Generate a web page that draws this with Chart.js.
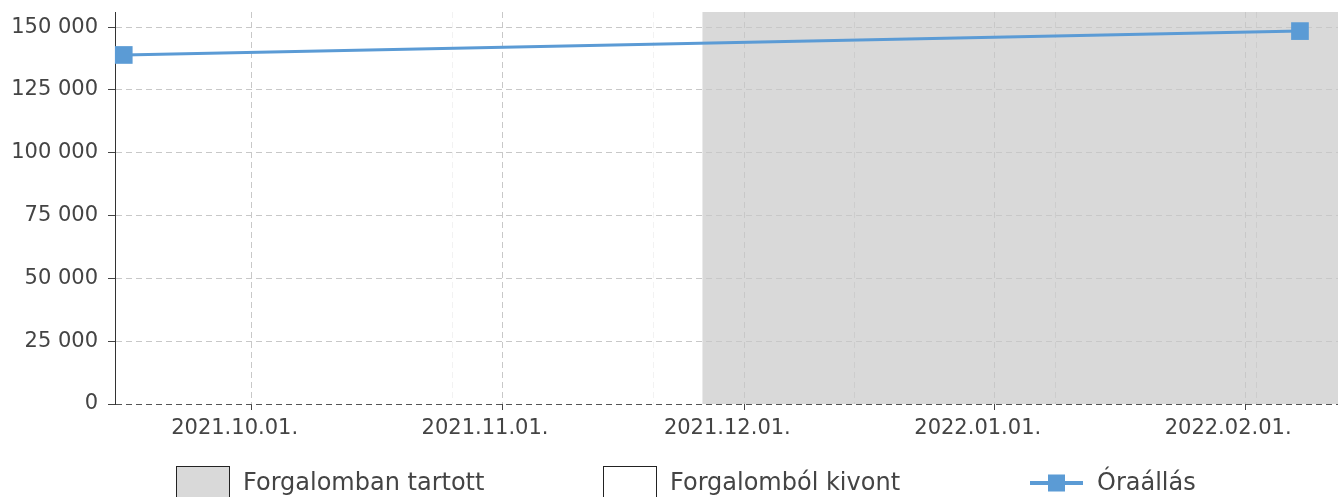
<!DOCTYPE html>
<html>
<head>
<meta charset="utf-8">
<script src="https://cdn.jsdelivr.net/npm/chart.js@4"></script>
<style>
  html, body { margin: 0; padding: 0; background: #fff; overflow: hidden; }
  .chart-wrap { width: 1338px; height: 497px; }
</style>
</head>
<body>
<div class="chart-wrap"><canvas class="ora-chart" width="1338" height="497"></canvas></div>
<script>
// meter readings (Óraállás)
const readingDates = ["2021-09-15T04:00", "2022-02-07T19:00"];
const readingValues = [138900, 148400];

// status periods
const statusLabels = ["Forgalomban tartott", "Forgalomból kivont"];
const inServiceFrom = "2021-11-25T19:00";

// axis range and ticks
const xRange = ["2021-09-14T02:00", "2022-02-12T12:00"];
const monthTicks = ["2021-10-01T00:00", "2021-11-01T00:00", "2021-12-01T00:00", "2022-01-01T00:00", "2022-02-01T00:00"];
const monthLabels = ["2021.10.01.", "2021.11.01.", "2021.12.01.", "2022.01.01.", "2022.02.01."];
const minorTicks = ["2021-10-25T20:00", "2021-11-19T17:00", "2021-12-14T14:00", "2022-01-08T12:00", "2022-02-02T10:00"];
const yTicks = [0, 25000, 50000, 75000, 100000, 125000, 150000];
const yMax = 156000;

const t = (s) => Date.parse(s + ":00Z");
const fmtNum = (v) => String(v).replace(/\B(?=(\d{3})+(?!\d))/g, " ");

Chart.defaults.font.family = "'DejaVu Sans', sans-serif";
Chart.defaults.color = "#444";

// legend drawn by hand so the spacing matches
const bottomLegend = {
  id: "bottomLegend",
  afterDraw(chart) {
    const ctx = chart.ctx;
    const starts = [176, 603, 1030];
    const cy = 483;
    ctx.save();
    chart.data.datasets.forEach((ds, i) => {
      const x = starts[i];
      if (ds.legendType === "line") {
        ctx.strokeStyle = ds.borderColor;
        ctx.lineWidth = 4;
        ctx.beginPath();
        ctx.moveTo(x, cy);
        ctx.lineTo(x + 53, cy);
        ctx.stroke();
        ctx.fillStyle = ds.pointBackgroundColor;
        ctx.fillRect(x + 18, cy - 8.5, 17, 17);
      } else {
        ctx.fillStyle = ds.backgroundColor;
        ctx.fillRect(x + 0.5, 466.5, 53, 36);
        ctx.strokeStyle = "#222";
        ctx.lineWidth = 1;
        ctx.strokeRect(x + 0.5, 466.5, 53, 36);
      }
      ctx.fillStyle = "#444";
      ctx.font = "24px 'DejaVu Sans'";
      ctx.textBaseline = "middle";
      ctx.textAlign = "left";
      ctx.fillText(ds.label, x + 67, cy + 1);
    });
    ctx.restore();
  }
};

const ctx = document.querySelector(".ora-chart").getContext("2d");
const chart = new Chart(ctx, {
  type: "line",
  data: {
    datasets: [
      {
        label: statusLabels[0],
        data: [{ x: t(inServiceFrom), y: yMax }, { x: t(xRange[1]), y: yMax }],
        backgroundColor: "#d9d9d9",
        borderColor: "transparent",
        borderWidth: 0,
        pointRadius: 0,
        fill: "origin"
      },
      {
        label: statusLabels[1],
        data: [{ x: t(xRange[0]), y: yMax }, { x: t(inServiceFrom), y: yMax }],
        backgroundColor: "#ffffff",
        borderColor: "transparent",
        borderWidth: 0,
        pointRadius: 0,
        fill: "origin"
      },
      {
        label: "Óraállás",
        legendType: "line",
        data: readingDates.map((d, i) => ({ x: t(d), y: readingValues[i] })),
        borderColor: "#5b9bd5",
        borderWidth: 3,
        pointStyle: "rect",
        pointRadius: 12.5,
        pointBackgroundColor: "#5b9bd5",
        pointBorderColor: "#5b9bd5",
        pointBorderWidth: 0,
        fill: false,
        clip: false
      }
    ]
  },
  options: {
    responsive: false,
    animation: false,
    layout: { autoPadding: false, padding: { top: 12, left: 0, right: 0, bottom: 41 } },
    plugins: {
      legend: { display: false },
      tooltip: { enabled: false },
      filler: { drawTime: "beforeDraw" }
    },
    scales: {
      x: {
        type: "linear",
        position: "bottom",
        min: t(xRange[0]),
        max: t(xRange[1]),
        afterBuildTicks: (s) => { s.ticks = monthTicks.map((d) => ({ value: t(d) })); },
        afterFit: (s) => { s.height = 52; s.paddingLeft = 0; s.paddingRight = 0; },
        ticks: {
          autoSkip: false,
          maxRotation: 0,
          padding: 6,
          labelOffset: -17,
          font: { size: 21 },
          callback: (v, i) => monthLabels[i]
        },
        grid: { color: "#c8c8c8", tickColor: "#444", tickLength: 6 },
        border: { display: false, dash: [6, 4] }
      },
      x2: {
        type: "linear",
        position: "bottom",
        min: t(xRange[0]),
        max: t(xRange[1]),
        afterBuildTicks: (s) => { s.ticks = minorTicks.map((d) => ({ value: t(d) })); },
        afterFit: (s) => { s.height = 0; s.paddingLeft = 0; s.paddingRight = 0; },
        ticks: { display: false },
        grid: { color: "rgba(0,0,0,0.05)", drawTicks: false },
        border: { display: false, dash: [6, 4] }
      },
      y: {
        min: 0,
        max: yMax,
        afterBuildTicks: (s) => { s.ticks = yTicks.map((v) => ({ value: v })); },
        afterFit: (s) => { s.width = 115; s.paddingTop = 0; s.paddingBottom = 0; },
        ticks: {
          padding: 10,
          font: { size: 21 },
          callback: (v) => fmtNum(v)
        },
        grid: {
          color: (c) => (c.tick && c.tick.value === 0 ? "#555" : "#c8c8c8"),
          tickColor: "#444",
          tickLength: 7
        },
        border: { color: "#333", width: 1, dash: [6, 4] }
      }
    }
  },
  plugins: [bottomLegend]
});
</script>
</body>
</html>
